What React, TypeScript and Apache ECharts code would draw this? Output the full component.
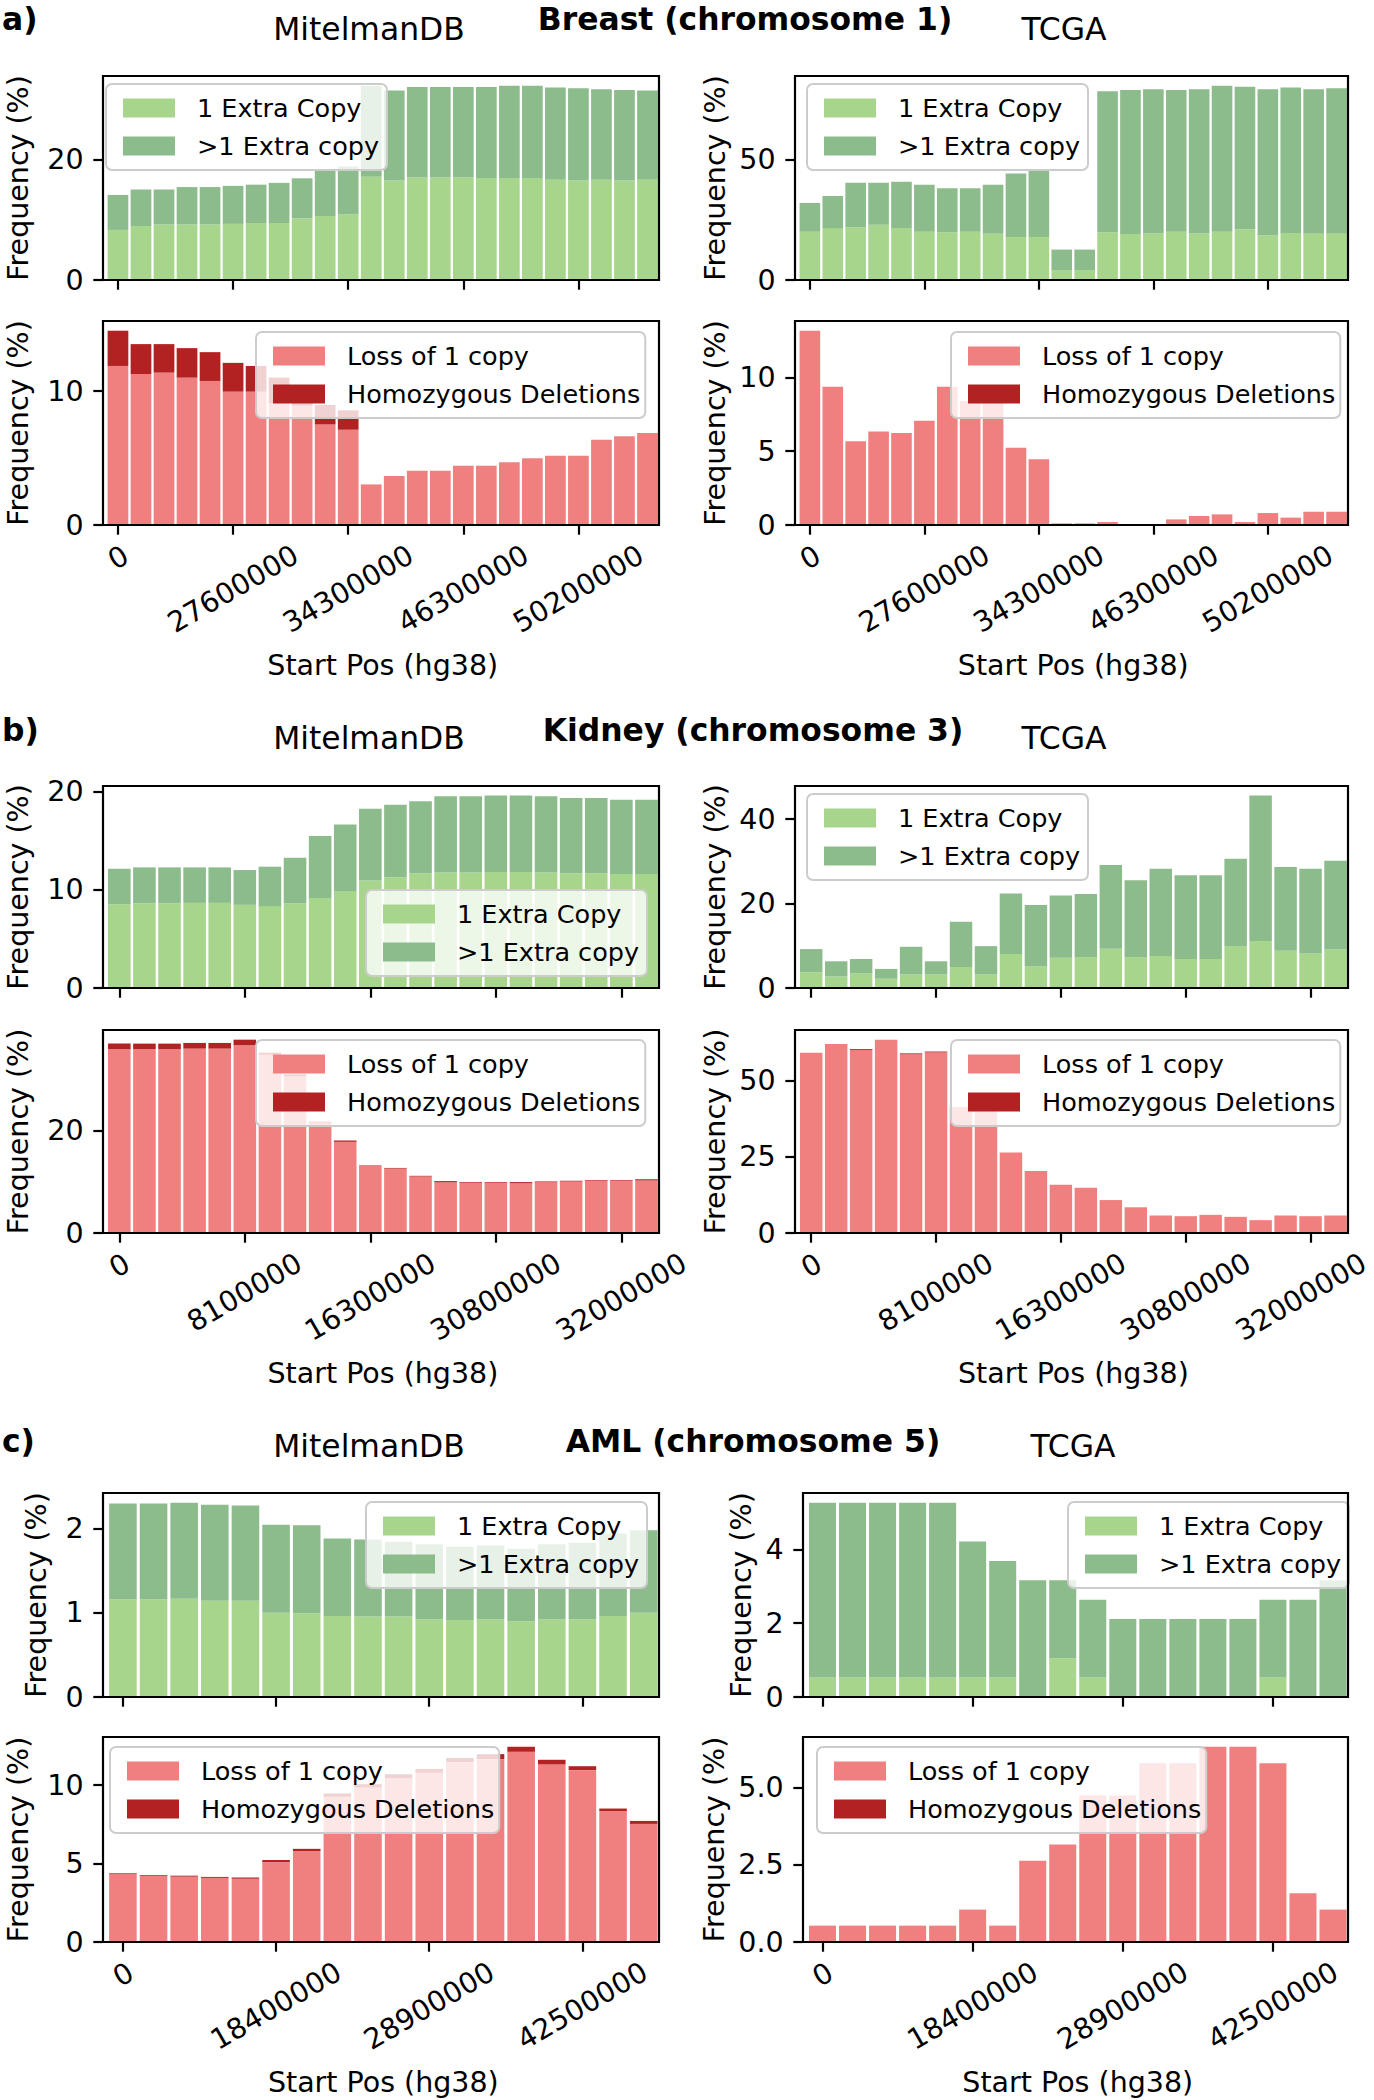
import React, { useEffect, useRef } from 'react';
import * as echarts from 'echarts';

const FONT = 'DejaVu Sans';
const FS = 28.5;
const LEG_FS = 25.5;
const TITLE_FS = 31.4;
const PAGE_W = 1374;

// ---- text ----
const rowLabels = ['a)', 'b)', 'c)'];
const rowTitles = ['Breast (chromosome 1)', 'Kidney (chromosome 3)', 'AML (chromosome 5)'];
const sourceTitles = ['MitelmanDB', 'TCGA'];
const xAxisName = 'Start Pos (hg38)';
const yAxisName = 'Frequency (%)';
const gainNames = ['1 Extra Copy', '>1 Extra copy'];
const lossNames = ['Loss of 1 copy', 'Homozygous Deletions'];

// ---- tick labels ----
const breastTickLabels = ['0', '27600000', '34300000', '46300000', '50200000'];
const kidneyTickLabels = ['0', '8100000', '16300000', '30800000', '32000000'];
const amlTickLabels = ['0', '18400000', '28900000', '42500000'];

// ---- a) Breast (chromosome 1) ----
const breastMitOneExtra = [8.3, 8.95, 9.2, 9.2, 9.2, 9.3, 9.45, 9.45, 10.2, 10.6, 10.9, 17.1, 16.5, 17.0, 17.0, 17.0, 16.9, 16.9, 16.9, 16.6, 16.5, 16.6, 16.5, 16.6];
const breastMitMultiExtra = [5.8, 6.05, 5.8, 6.2, 6.2, 6.3, 6.35, 6.65, 6.65, 7.6, 7.9, 15.1, 14.9, 15.0, 15.0, 15.0, 15.1, 15.3, 15.3, 15.3, 15.3, 15.0, 15.0, 14.8];
const breastTcgaOneExtra = [20.0, 21.5, 21.8, 22.9, 21.5, 20.0, 19.75, 20.0, 19.2, 17.8, 17.8, 4.1, 4.1, 19.75, 19.1, 19.3, 20.0, 19.3, 20.0, 21.0, 18.5, 19.5, 19.2, 19.2];
const breastTcgaMultiExtra = [11.9, 13.3, 18.5, 17.4, 19.2, 19.5, 18.25, 18.0, 20.3, 26.3, 27.7, 8.5, 8.5, 58.45, 59.6, 59.7, 58.7, 59.7, 60.5, 59.1, 60.5, 60.3, 59.8, 60.2];
const breastMitLossOne = [11.87, 11.27, 11.37, 11.0, 10.75, 9.95, 9.95, 9.1, 8.9, 7.51, 7.11, 3.03, 3.66, 4.05, 4.05, 4.43, 4.43, 4.68, 4.98, 5.17, 5.17, 6.37, 6.62, 6.87];
const breastMitHomDel = [2.63, 2.23, 2.13, 2.2, 2.15, 2.15, 1.92, 1.9, 1.4, 1.45, 1.45, 0, 0, 0, 0, 0, 0, 0, 0, 0, 0, 0, 0, 0];
const breastTcgaLossOne = [13.17, 9.37, 5.68, 6.33, 6.24, 7.06, 9.37, 8.4, 8.4, 5.23, 4.46, 0.11, 0.11, 0.2, 0, 0, 0.38, 0.61, 0.72, 0.2, 0.81, 0.5, 0.9, 0.9];
const breastTcgaHomDel = [0, 0, 0, 0, 0, 0, 0, 0, 0, 0, 0, 0, 0, 0, 0, 0, 0, 0, 0, 0, 0, 0, 0, 0];

// ---- b) Kidney (chromosome 3) ----
const kidneyMitOneExtra = [8.53, 8.6, 8.6, 8.66, 8.66, 8.46, 8.33, 8.6, 9.16, 9.87, 10.94, 11.27, 11.67, 11.74, 11.74, 11.81, 11.81, 11.74, 11.67, 11.67, 11.6, 11.6];
const kidneyMitMultiExtra = [3.61, 3.67, 3.67, 3.61, 3.61, 3.54, 4.01, 4.64, 6.29, 6.75, 7.29, 7.36, 7.33, 7.76, 7.76, 7.76, 7.76, 7.76, 7.66, 7.66, 7.56, 7.56];
const kidneyTcgaOneExtra = [3.75, 2.73, 3.52, 2.19, 3.2, 3.2, 5.0, 3.2, 8.05, 5.16, 7.19, 7.34, 9.3, 7.34, 7.58, 6.88, 6.88, 9.92, 11.17, 8.83, 8.2, 9.14];
const kidneyTcgaMultiExtra = [5.47, 3.6, 3.36, 2.34, 6.57, 3.13, 10.7, 6.72, 14.35, 14.54, 14.76, 14.93, 19.84, 18.21, 20.7, 19.84, 19.84, 20.71, 34.43, 19.84, 20.08, 21.02];
const kidneyMitLossOne = [35.87, 35.87, 35.87, 36.0, 36.0, 36.65, 34.8, 30.6, 21.55, 17.8, 13.1, 12.58, 11.03, 9.87, 9.8, 9.8, 9.68, 9.94, 10.06, 10.19, 10.19, 10.26];
const kidneyMitHomDel = [1.1, 1.1, 1.1, 1.1, 1.1, 1.09, 0.4, 0.37, 0.19, 0.26, 0.1, 0.12, 0.13, 0.26, 0.14, 0.14, 0.26, 0.12, 0.13, 0.13, 0.13, 0.24];
const kidneyTcgaLossOne = [59.1, 62.0, 60.0, 63.4, 58.6, 59.2, 41.3, 40.0, 26.4, 20.35, 15.8, 14.8, 10.8, 8.44, 5.74, 5.52, 5.95, 5.3, 4.22, 5.74, 5.52, 5.74];
const kidneyTcgaHomDel = [0, 0, 0.3, 0, 0.3, 0.3, 0, 0, 0, 0, 0, 0, 0, 0, 0, 0, 0, 0, 0, 0, 0, 0];

// ---- c) AML (chromosome 5) ----
const amlMitOneExtra = [1.157, 1.157, 1.165, 1.142, 1.142, 1.0, 0.992, 0.96, 0.953, 0.953, 0.921, 0.913, 0.921, 0.898, 0.921, 0.921, 0.96, 1.0];
const amlMitMultiExtra = [1.138, 1.138, 1.138, 1.138, 1.128, 1.043, 1.043, 0.92, 0.913, 0.887, 0.889, 0.867, 0.874, 0.858, 0.889, 0.906, 0.977, 0.976];
const amlTcgaOneExtra = [0.53, 0.53, 0.53, 0.53, 0.53, 0.53, 0.53, 0, 1.05, 0.53, 0, 0, 0, 0, 0, 0.53, 0, 0];
const amlTcgaMultiExtra = [4.73, 4.73, 4.73, 4.73, 4.73, 3.68, 3.15, 3.16, 2.11, 2.1, 2.11, 2.11, 2.11, 2.11, 2.11, 2.1, 2.63, 3.16];
const amlMitLossOne = [4.32, 4.21, 4.17, 4.09, 4.04, 5.09, 5.79, 9.26, 9.85, 10.43, 10.79, 11.47, 11.66, 12.13, 11.32, 10.96, 8.34, 7.53];
const amlMitHomDel = [0.06, 0.05, 0.06, 0.06, 0.07, 0.14, 0.15, 0.21, 0.21, 0.27, 0.25, 0.27, 0.32, 0.32, 0.3, 0.25, 0.17, 0.19];
const amlTcgaLossOne = [0.53, 0.53, 0.53, 0.53, 0.53, 1.05, 0.53, 2.63, 3.16, 4.74, 4.74, 5.79, 5.79, 6.32, 6.32, 5.79, 1.58, 1.05];
const amlTcgaHomDel = [0, 0, 0, 0, 0, 0, 0, 0, 0, 0, 0, 0, 0, 0, 0, 0, 0, 0];

// ---- colours ----
const GAIN_COLORS = ['#a6d58b', '#8cbb8c'];
const LOSS_COLORS = ['#f08080', '#b22222'];

// ---- layout (pixels) ----
const COL_L: [number, number] = [103, 659];
const COL_R: [number, number] = [795, 1348];
const COL_RC: [number, number] = [803, 1348];
const ROW = {
  aTop: [76, 280], aBot: [321, 525],
  bTop: [786, 988], bBot: [1030, 1233],
  cTop: [1493, 1697], cBot: [1737, 1942],
} as Record<string, [number, number]>;
const LEFT_PAD_BINS = 0.65;
const RIGHT_PAD_BINS = 0.5;
const X_LABEL_MARGIN = 64;
const NAME_EXTRA_L = 14;
const NAME_EXTRA_R = 9;

type Panel = {
  kind: 'gain' | 'loss';
  low: number[];
  high: number[];
  ticks: string[];
  step: number;
  dec: number;
  col: [number, number];
  row: [number, number];
  legend: [number, number];
  bottom: boolean;
  nameExtra: number;
};

const panels: Panel[] = [
  { kind: 'gain', low: breastMitOneExtra, high: breastMitMultiExtra, ticks: breastTickLabels, step: 20, dec: 0, col: COL_L, row: ROW.aTop, legend: [106, 84], bottom: false, nameExtra: NAME_EXTRA_L },
  { kind: 'gain', low: breastTcgaOneExtra, high: breastTcgaMultiExtra, ticks: breastTickLabels, step: 50, dec: 0, col: COL_R, row: ROW.aTop, legend: [807, 84], bottom: false, nameExtra: NAME_EXTRA_R },
  { kind: 'loss', low: breastMitLossOne, high: breastMitHomDel, ticks: breastTickLabels, step: 10, dec: 0, col: COL_L, row: ROW.aBot, legend: [256, 332], bottom: true, nameExtra: NAME_EXTRA_L },
  { kind: 'loss', low: breastTcgaLossOne, high: breastTcgaHomDel, ticks: breastTickLabels, step: 5, dec: 0, col: COL_R, row: ROW.aBot, legend: [951, 332], bottom: true, nameExtra: NAME_EXTRA_R },
  { kind: 'gain', low: kidneyMitOneExtra, high: kidneyMitMultiExtra, ticks: kidneyTickLabels, step: 10, dec: 0, col: COL_L, row: ROW.bTop, legend: [366, 890], bottom: false, nameExtra: NAME_EXTRA_L },
  { kind: 'gain', low: kidneyTcgaOneExtra, high: kidneyTcgaMultiExtra, ticks: kidneyTickLabels, step: 20, dec: 0, col: COL_R, row: ROW.bTop, legend: [807, 794], bottom: false, nameExtra: NAME_EXTRA_R },
  { kind: 'loss', low: kidneyMitLossOne, high: kidneyMitHomDel, ticks: kidneyTickLabels, step: 20, dec: 0, col: COL_L, row: ROW.bBot, legend: [256, 1040], bottom: true, nameExtra: NAME_EXTRA_L },
  { kind: 'loss', low: kidneyTcgaLossOne, high: kidneyTcgaHomDel, ticks: kidneyTickLabels, step: 25, dec: 0, col: COL_R, row: ROW.bBot, legend: [951, 1040], bottom: true, nameExtra: NAME_EXTRA_R },
  { kind: 'gain', low: amlMitOneExtra, high: amlMitMultiExtra, ticks: amlTickLabels, step: 1, dec: 0, col: COL_L, row: ROW.cTop, legend: [366, 1502], bottom: false, nameExtra: NAME_EXTRA_L },
  { kind: 'gain', low: amlTcgaOneExtra, high: amlTcgaMultiExtra, ticks: amlTickLabels, step: 2, dec: 0, col: COL_RC, row: ROW.cTop, legend: [1068, 1502], bottom: false, nameExtra: NAME_EXTRA_R },
  { kind: 'loss', low: amlMitLossOne, high: amlMitHomDel, ticks: amlTickLabels, step: 5, dec: 0, col: COL_L, row: ROW.cBot, legend: [110, 1747], bottom: true, nameExtra: NAME_EXTRA_L },
  { kind: 'loss', low: amlTcgaLossOne, high: amlTcgaHomDel, ticks: amlTickLabels, step: 2.5, dec: 1, col: COL_RC, row: ROW.cBot, legend: [817, 1747], bottom: true, nameExtra: NAME_EXTRA_R },
];

function textWidth(s: string): number {
  let w = 0;
  for (const ch of s) w += ch === '.' ? 0.318 * FS : 0.636 * FS;
  return w;
}

const baseTick = { fontFamily: FONT, fontSize: FS, color: '#000' };

function buildOption() {
  const grid: any[] = [];
  const xAxis: any[] = [];
  const yAxis: any[] = [];
  const series: any[] = [];
  const legend: any[] = [];
  const graphic: any[] = [];

  panels.forEach((p, i) => {
    const n = p.low.length;
    const boxW = p.col[1] - p.col[0];
    const boxH = p.row[1] - p.row[0];
    const binW = boxW / (n - 1 + LEFT_PAD_BINS + RIGHT_PAD_BINS);
    const off = (LEFT_PAD_BINS - 0.5) * binW;
    const totals = p.low.map((v, j) => v + p.high[j]);
    const yMax = Math.max(...totals) * 1.05;
    const yTicks: number[] = [];
    for (let v = 0; v <= yMax + 1e-9; v += p.step) yTicks.push(Math.round(v * 1000) / 1000);
    const maxLabelW = Math.max(...yTicks.map((v) => textWidth(v.toFixed(p.dec))));
    const names = p.kind === 'gain' ? gainNames : lossNames;
    const colors = p.kind === 'gain' ? GAIN_COLORS : LOSS_COLORS;

    // rich styles for the rotated, centred tick labels (matplotlib-like placement)
    const rich: any = {
      l8: { ...baseTick },
      l7: { ...baseTick, padding: [0, 0, 8, 4] },
      l1: { ...baseTick, padding: [0, 0, 54, 32] },
    };
    // keep the right-most label inside the page
    const keyFor: Record<number, string> = {};
    p.ticks.forEach((t, k) => {
      const idx = k * 5;
      const tickX = p.col[0] + (LEFT_PAD_BINS + idx) * binW;
      const halfW = (textWidth(t) * 0.866 + FS * 0.5) / 2;
      const over = tickX + halfW - (PAGE_W - 3);
      let key = t.length >= 8 ? 'l8' : t.length === 7 ? 'l7' : 'l1';
      if (over > 0 && t.length >= 8) {
        const P = over / 0.577;
        const B = 0.577 * P;
        rich['e' + k] = { ...baseTick, padding: [0, P, B, 0] };
        key = 'e' + k;
      }
      keyFor[idx] = key;
    });

    grid.push({ left: p.col[0] + off, top: p.row[0], width: n * binW, height: boxH, outerBoundsMode: 'none', containLabel: false });
    xAxis.push({
      type: 'category', gridIndex: i,
      data: p.low.map((_, j) => String(j)),
      boundaryGap: true,
      axisLine: { show: false },
      axisTick: { show: true, interval: 4, alignWithLabel: true, length: 9.7, lineStyle: { color: '#000', width: 2.2 } },
      axisLabel: {
        show: p.bottom, interval: 4, rotate: 30, align: 'center', verticalAlign: 'middle', margin: X_LABEL_MARGIN,
        fontFamily: FONT, fontSize: FS, color: '#000',
        formatter: (value: string) => {
          const j = Number(value);
          if (j % 5 !== 0) return '';
          const t = p.ticks[j / 5];
          if (t === undefined) return '';
          return `{${keyFor[j]}|${t}}`;
        },
        rich,
      },
      splitLine: { show: false },
      name: p.bottom ? xAxisName : '',
      nameLocation: 'middle', nameGap: 126,
      nameTextStyle: { fontFamily: FONT, fontSize: FS, color: '#000' },
    });
    yAxis.push({
      type: 'value', gridIndex: i, min: 0, max: yMax, offset: off,
      axisLine: { show: false },
      axisTick: { show: true, length: 9.7, lineStyle: { color: '#000', width: 2.2 }, customValues: yTicks },
      axisLabel: { fontFamily: FONT, fontSize: FS, color: '#000', margin: 19.4, customValues: yTicks, formatter: (v: number) => v.toFixed(p.dec) },
      splitLine: { show: false },
      name: yAxisName, nameLocation: 'middle', nameGap: 19.4 + maxLabelW + p.nameExtra,
      nameTextStyle: { fontFamily: FONT, fontSize: FS, color: '#000' },
    });
    series.push({
      type: 'bar', name: names[0], xAxisIndex: i, yAxisIndex: i, stack: 'st' + i,
      data: p.low, barCategoryGap: '10%', itemStyle: { color: colors[0] }, silent: true,
    });
    series.push({
      type: 'bar', name: names[1], xAxisIndex: i, yAxisIndex: i, stack: 'st' + i,
      data: p.high, barCategoryGap: '10%', itemStyle: { color: colors[1] }, silent: true,
    });
    legend.push({
      left: p.legend[0], top: p.legend[1], orient: 'vertical', data: names,
      icon: 'rect', itemWidth: 52, itemHeight: 19, itemGap: 12,
      padding: [11, p.kind === 'gain' ? 8 : 5, 11, 17],
      backgroundColor: 'rgba(255,255,255,0.8)', borderColor: '#cccccc', borderWidth: 2, borderRadius: 6,
      selectedMode: false,
      textStyle: { fontFamily: FONT, fontSize: LEG_FS, color: '#000', lineHeight: 26, padding: [0, 0, 0, 17] },
    });
    graphic.push({
      type: 'rect', z: 100, silent: true,
      shape: { x: p.col[0], y: p.row[0], width: boxW, height: boxH },
      style: { fill: 'none', stroke: '#000', lineWidth: 2.2 },
    });
  });

  const rowY = [19, 730, 1441];
  const srcY = [29, 738, 1446];
  rowLabels.forEach((t, r) => {
    graphic.push({ type: 'text', x: 2, y: rowY[r], style: { text: t, fontFamily: FONT, fontSize: TITLE_FS, fontWeight: 'bold', fill: '#000', textAlign: 'left', textVerticalAlign: 'middle' } });
    graphic.push({ type: 'text', x: r === 0 ? 745 : 753, y: rowY[r], style: { text: rowTitles[r], fontFamily: FONT, fontSize: TITLE_FS, fontWeight: 'bold', fill: '#000', textAlign: 'center', textVerticalAlign: 'middle' } });
    graphic.push({ type: 'text', x: 369, y: srcY[r], style: { text: sourceTitles[0], fontFamily: FONT, fontSize: TITLE_FS, fill: '#000', textAlign: 'center', textVerticalAlign: 'middle' } });
    graphic.push({ type: 'text', x: r === 2 ? 1073 : 1064, y: srcY[r], style: { text: sourceTitles[1], fontFamily: FONT, fontSize: TITLE_FS, fill: '#000', textAlign: 'center', textVerticalAlign: 'middle' } });
  });

  return { animation: false, backgroundColor: '#fff', grid, xAxis, yAxis, series, legend, graphic };
}

export default function App() {
  const ref = useRef<HTMLDivElement>(null);
  useEffect(() => {
    document.body.style.margin = '0';
    if (!ref.current) return;
    const chart = echarts.init(ref.current, null, { renderer: 'svg' });
    chart.setOption(buildOption() as any);
    return () => chart.dispose();
  }, []);
  return <div ref={ref} style={{ width: 1374, height: 2100 }} />;
}
